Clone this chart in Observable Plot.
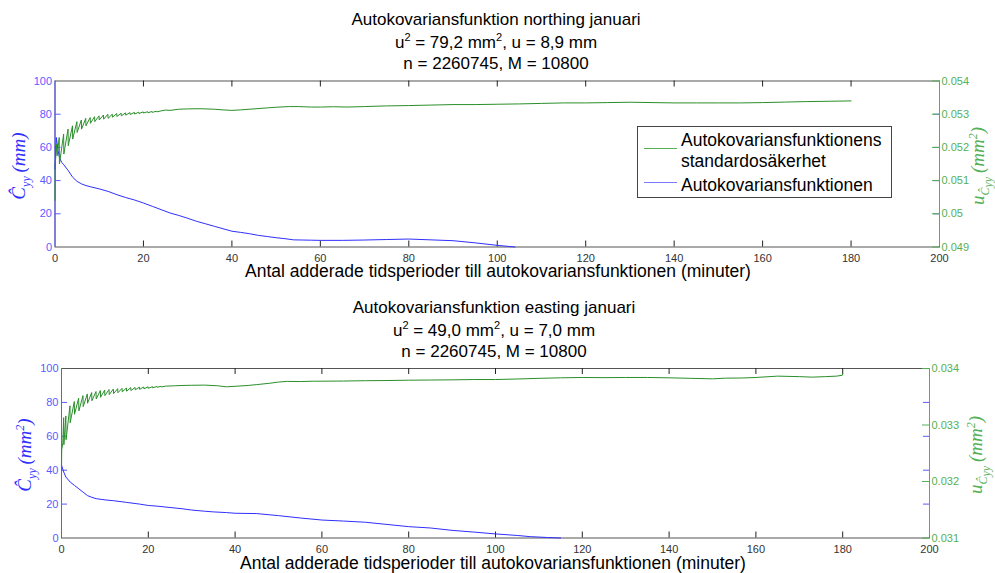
<!DOCTYPE html>
<html>
<head>
<meta charset="utf-8">
<script src="https://cdn.jsdelivr.net/npm/d3@7"></script>
<script src="https://cdn.jsdelivr.net/npm/@observablehq/plot@0.6"></script>
<style>
  html, body { margin: 0; padding: 0; background: #fff; }
  #wrap { position: relative; width: 995px; height: 573px; overflow: hidden; background: #fff;
          font-family: "Liberation Sans", Arial, Helvetica, sans-serif; color: #000; }
  #wrap svg { position: absolute; left: 0; }
  .t { position: absolute; white-space: nowrap; line-height: 20px; }
  .c { transform: translateX(-50%); }
  .rot { position: absolute; white-space: nowrap; transform: translate(-50%, -50%) rotate(-90deg);
         font-family: "Liberation Serif", "DejaVu Serif", serif; font-style: italic; }
  sup.s { font-size: 11px; line-height: 0; vertical-align: 7px; }
  .rot sub, .rot sup { line-height: 0; font-size: 12px; }
</style>
</head>
<body>
<div id="wrap"></div>
<script>
// ---------------- DATA ----------------
const xTicks = [0, 20, 40, 60, 80, 100, 120, 140, 160, 180, 200];
const leftTicks = [0, 20, 40, 60, 80, 100];

// Panel 1: northing
const nBlueX = [0, 0.3, 0.7, 1, 1.5, 2, 3, 4, 5, 6, 7, 8, 10, 12, 14, 16, 18, 20, 22, 24, 26, 28, 30, 32, 34, 36, 38, 40, 42, 44, 46, 48, 50, 52, 54, 56, 58, 60, 65, 70, 75, 80, 85, 90, 95, 100, 104];
const nBlueY = [47, 66, 58, 54, 51, 49.5, 46, 42, 39.5, 38, 37, 36.3, 35, 33.5, 31.5, 29.8, 28.3, 26.5, 24.5, 22.5, 20.5, 19, 17.3, 15.5, 14, 12.5, 11, 9.5, 8.8, 8, 7, 6.3, 5.6, 5, 4.3, 4.2, 4.1, 4, 4, 4.2, 4.5, 4.8, 4.3, 3.8, 2.5, 1, 0];
const nGreenX = [0, 0.05, 0.4, 0.5, 0.95, 1.0, 1.95, 2.0, 2.95, 3.0, 3.95, 4.0, 4.95, 5.0, 5.95, 6.0, 6.95, 7.0, 7.95, 8.0, 8.95, 9.0, 9.95, 10.0, 10.95, 11.0, 11.95, 12.0, 12.95, 13.0, 13.95, 14.0, 14.95, 15.0, 15.95, 16.0, 16.95, 17.0, 17.95, 18.0, 18.95, 19.0, 19.95, 20.0, 20.95, 21.0, 21.95, 22.0, 22.95, 23.0, 24, 25, 26, 28, 30, 33, 36, 38, 40, 42, 45, 48, 50, 53, 55, 58, 60, 63, 66, 70, 75, 80, 85, 90, 95, 100, 105, 110, 115, 120, 125, 130, 135, 140, 145, 150, 155, 160, 165, 170, 175, 180];
const nGreenY = [0.0504, 0.0515, 0.0521, 0.05175, 0.0523, 0.0515, 0.0524, 0.0518, 0.05255, 0.05205, 0.05265, 0.05225, 0.052775, 0.05245, 0.052825, 0.05255, 0.052875, 0.05265, 0.0529, 0.052725, 0.052925, 0.052775, 0.05295, 0.052825, 0.052975, 0.05285, 0.053, 0.052875, 0.053, 0.05291, 0.05302, 0.05293, 0.05303, 0.05295, 0.05304, 0.05297, 0.05305, 0.05299, 0.053055, 0.053005, 0.05306, 0.05302, 0.05307, 0.053035, 0.053075, 0.053045, 0.05308, 0.053055, 0.05309, 0.05307, 0.0531, 0.053125, 0.053115, 0.05315, 0.05316, 0.053165, 0.05315, 0.05313, 0.053115, 0.05313, 0.05316, 0.05319, 0.05321, 0.05323, 0.05323, 0.053215, 0.053215, 0.053225, 0.053215, 0.05323, 0.05325, 0.05326, 0.053275, 0.05329, 0.05329, 0.0533, 0.05331, 0.053325, 0.05334, 0.05334, 0.05335, 0.05336, 0.05335, 0.05334, 0.05334, 0.05334, 0.05334, 0.05335, 0.053365, 0.05338, 0.05339, 0.0534];
const nRightTicks = [0.049, 0.050, 0.051, 0.052, 0.053, 0.054];
const nRightLabels = ["0.049", "0.05", "0.051", "0.052", "0.053", "0.054"];

// Panel 2: easting
const eBlueX = [0, 0.5, 1, 2, 3, 4, 5, 6, 7, 8, 10, 12, 15, 18, 20, 22, 25, 28, 30, 33, 35, 38, 40, 45, 50, 55, 60, 65, 70, 75, 80, 85, 90, 95, 100, 105, 108, 112, 115];
const eBlueY = [43, 39, 36, 33, 31, 29, 27, 25, 24, 23.2, 22.5, 22, 21, 20, 19.2, 18.8, 18, 17.2, 16.5, 15.8, 15.4, 15, 14.6, 14.4, 13.2, 11.8, 10.6, 10, 9.3, 8, 6.7, 5.9, 4.5, 3.5, 2.4, 1.5, 0.8, 0.3, 0];
const eGreenX = [0, 0.05, 0.3, 0.5, 0.55, 1.0, 1.05, 1.95, 2.0, 2.95, 3.0, 3.95, 4.0, 4.95, 5.0, 5.95, 6.0, 6.95, 7.0, 7.95, 8.0, 8.95, 9.0, 9.95, 10.0, 10.95, 11, 11.95, 12, 12.95, 13, 13.95, 14, 14.95, 15, 15.95, 16, 16.95, 17, 17.95, 18, 18.95, 19, 19.95, 20, 20.95, 21, 21.95, 22, 22.95, 23, 24, 26, 28, 30, 33, 36, 38, 40, 43, 45, 48, 50, 52, 55, 58, 60, 65, 70, 75, 80, 85, 90, 95, 100, 105, 110, 115, 120, 125, 130, 135, 140, 145, 150, 153, 157, 160, 165, 170, 173, 176, 178.6, 179.9, 180];
const eGreenY = [0.0322, 0.03256, 0.03268, 0.03313, 0.03265, 0.03316, 0.03274, 0.03334, 0.03304, 0.033415, 0.03319, 0.033475, 0.03325, 0.03352, 0.033325, 0.03355, 0.033385, 0.033574, 0.03343, 0.033592, 0.03346, 0.03361, 0.03349, 0.033619, 0.03352, 0.033628, 0.033538, 0.033637, 0.033556, 0.033643, 0.033571, 0.033649, 0.033586, 0.033655, 0.033598, 0.033661, 0.03361, 0.033664, 0.033622, 0.03367, 0.033631, 0.033673, 0.03364, 0.033676, 0.033649, 0.033679, 0.033658, 0.033682, 0.033667, 0.033685, 0.033673, 0.033688, 0.033694, 0.0337, 0.033703, 0.033706, 0.033694, 0.033676, 0.033685, 0.0337, 0.033715, 0.033739, 0.03376, 0.033772, 0.033769, 0.033775, 0.033775, 0.033778, 0.033784, 0.033787, 0.033793, 0.033796, 0.033799, 0.033805, 0.033805, 0.033814, 0.033826, 0.033835, 0.033841, 0.033838, 0.033841, 0.033841, 0.033835, 0.033826, 0.033817, 0.033829, 0.033832, 0.033841, 0.033865, 0.033856, 0.033847, 0.033856, 0.033865, 0.03388, 0.03391];
const eRightTicks = [0.031, 0.032, 0.033, 0.034];
const eRightLabels = ["0.031", "0.032", "0.033", "0.034"];

const xLabel = "Antal adderade tidsperioder till autokovariansfunktionen (minuter)";
const legendLabels = ["Autokovariansfunktionens", "standardosäkerhet", "Autokovariansfunktionen"];

// ---------------- STYLE ----------------
const BLUE = "#2f2fff", GREEN = "#2a8f2a";
const BLUE_AX = "#5b5bff", GREEN_AX = "#55b055", FRAME = "#555555", XTXT = "#333333";
const TICK = 6;

const wrap = document.getElementById("wrap");
const pts = (xs, ys) => xs.map((x, i) => ({x, y: ys[i]}));

function panel({top, height, mL, mR, mT, mB, blueX, blueY, greenX, greenY, gTicks, gLabels, blueRight}) {
  const W = 995;
  const pw = W - mL - mR, ph = height - mT - mB;
  const common = {
    width: W, height, marginLeft: mL, marginRight: mR, marginTop: mT, marginBottom: mB,
    style: {background: "transparent", fontFamily: "Liberation Sans, Arial, sans-serif", fontSize: "11px", overflow: "visible"}
  };
  const inner = xTicks.slice(1, -1);
  const p1 = Plot.plot({
    ...common,
    x: {domain: [0, 200]},
    y: {domain: [0, 100]},
    marks: [
      Plot.frame({stroke: FRAME}),
      Plot.ruleX([0], {stroke: BLUE_AX}),
      // inward tick marks
      Plot.tickX(inner, {x: d => d, stroke: "#222", insetTop: ph - TICK}),
      Plot.tickX(inner, {x: d => d, stroke: "#222", insetBottom: ph - TICK}),
      Plot.tickY(leftTicks.slice(1, -1), {y: d => d, stroke: BLUE_AX, insetRight: pw - TICK}),
      Plot.tickY(blueRight, {y: d => d, stroke: BLUE_AX, insetLeft: pw - TICK}),
      // tick labels
      Plot.axisX({anchor: "bottom", ticks: xTicks, tickSize: 0, tickPadding: 7, color: XTXT, label: null}),
      Plot.axisY({anchor: "left", ticks: leftTicks, tickSize: 0, tickPadding: 3, color: BLUE_AX, label: null}),
      Plot.line(pts(blueX, blueY), {x: "x", y: "y", stroke: BLUE, strokeWidth: 1})
    ]
  });
  const p2 = Plot.plot({
    ...common,
    x: {domain: [0, 200], axis: null},
    y: {domain: [gTicks[0], gTicks[gTicks.length - 1]]},
    marks: [
      Plot.ruleX([200], {stroke: GREEN_AX}),
      Plot.tickY(gTicks, {y: d => d, stroke: GREEN_AX, insetLeft: pw - TICK - 1}),
      Plot.axisY({anchor: "right", ticks: gTicks, tickSize: 0, tickPadding: 2,
                  tickFormat: (d) => gLabels[gTicks.indexOf(d)], color: GREEN_AX, label: null}),
      Plot.line(pts(greenX, greenY), {x: "x", y: "y", stroke: GREEN, strokeWidth: 1})
    ]
  });
  p1.style.top = top + "px";
  p2.style.top = top + "px";
  wrap.appendChild(p1);
  wrap.appendChild(p2);
}

panel({top: 0, height: 290, mL: 54.5, mR: 56, mT: 80.5, mB: 43.5,
       blueX: nBlueX, blueY: nBlueY, greenX: nGreenX, greenY: nGreenY,
       gTicks: nRightTicks, gLabels: nRightLabels, blueRight: [20, 40, 60, 80]});
panel({top: 290, height: 283, mL: 61, mR: 66, mT: 78, mB: 35.5,
       blueX: eBlueX, blueY: eBlueY, greenX: eGreenX, greenY: eGreenY,
       gTicks: eRightTicks, gLabels: eRightLabels, blueRight: [20, 40, 60, 80]});

// ---------------- TEXT ----------------
function txt(html, x, y, size, extraClass = "c", lh = 20) {
  const d = document.createElement("div");
  d.className = "t " + extraClass;
  d.style.left = x + "px";
  d.style.top = (y - lh / 2) + "px";
  d.style.lineHeight = lh + "px";
  d.style.fontSize = size + "px";
  d.innerHTML = html;
  wrap.appendChild(d);
  return d;
}
function rot(html, x, y, color, size) {
  const d = document.createElement("div");
  d.className = "rot";
  d.style.left = x + "px";
  d.style.top = y + "px";
  d.style.color = color;
  d.style.fontSize = size + "px";
  d.innerHTML = html;
  wrap.appendChild(d);
}

// titles
txt("Autokovariansfunktion northing januari", 496, 20, 17);
txt('u<sup class="s">2</sup> = 79,2 mm<sup class="s">2</sup>, u = 8,9 mm', 496, 43, 17);
txt("n = 2260745, M = 10800", 496, 64, 17);
txt("Autokovariansfunktion easting januari", 494, 308, 17);
txt('u<sup class="s">2</sup> = 49,0 mm<sup class="s">2</sup>, u = 7,0 mm', 494, 331, 17);
txt("n = 2260745, M = 10800", 494, 352, 17);

// x labels
txt(xLabel, 498, 271, 17.5, "c", 16);
txt(xLabel, 493, 563, 17.5, "c", 16);

// y labels
const cHat = 'C&#770;';
rot(`${cHat}<sub>yy</sub>&thinsp;(mm)`, 19, 166, BLUE, 19);
rot(`${cHat}<sub>yy</sub>&thinsp;(mm<sup>2</sup>)`, 25, 455, BLUE, 19);
rot(`u<sub>${cHat}<sub>yy</sub></sub>&thinsp;(mm<sup>2</sup>)`, 978, 166, GREEN_AX, 19);
rot(`u<sub>${cHat}<sub>yy</sub></sub>&thinsp;(mm<sup>2</sup>)`, 976, 455, GREEN_AX, 19);

// legend
const lg = document.createElement("div");
lg.style.cssText = "position:absolute;left:637px;top:126px;width:253px;height:70px;border:1px solid #444;background:#fff;";
wrap.appendChild(lg);
const l1 = document.createElement("div");
l1.style.cssText = `position:absolute;left:644px;top:148px;width:33px;height:1px;background:${GREEN_AX};`;
wrap.appendChild(l1);
const l2 = document.createElement("div");
l2.style.cssText = `position:absolute;left:644px;top:182px;width:33px;height:1px;background:#7a7aff;`;
wrap.appendChild(l2);
txt(legendLabels[0], 681, 140, 17.5, "");
txt(legendLabels[1], 681, 161, 17.5, "");
txt(legendLabels[2], 681, 185, 17.5, "");
</script>
</body>
</html>
